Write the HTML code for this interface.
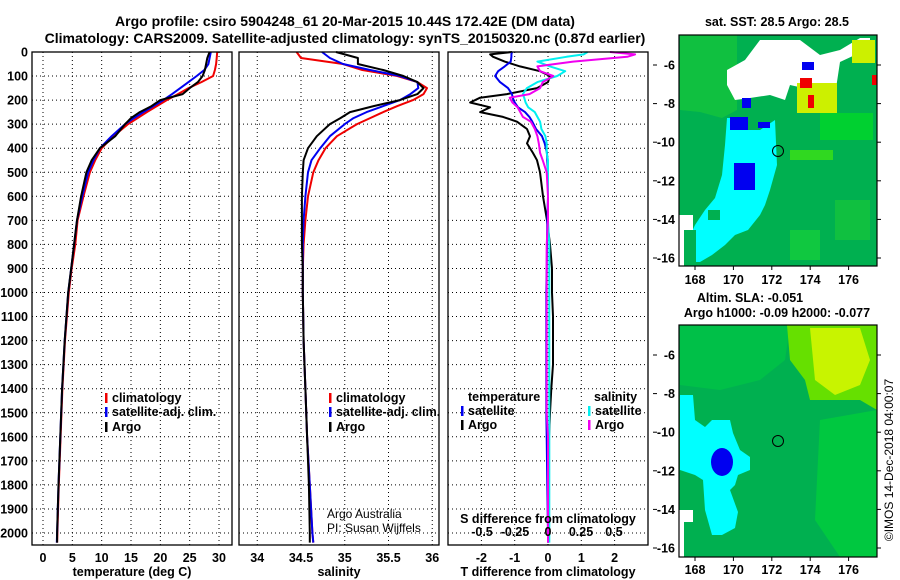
<!DOCTYPE html>
<html><head><meta charset="utf-8"><style>
body{margin:0;background:#fff;}
svg{display:block;font-family:"Liberation Sans",sans-serif;}
.b{font-weight:bold;font-size:12.5px;}
.t{font-weight:bold;font-size:14px;}
</style></head><body>
<svg id="s" width="900" height="580" viewBox="0 0 900 580" xmlns="http://www.w3.org/2000/svg">
<text class="t" x="345" y="26" text-anchor="middle">Argo profile: csiro 5904248_61 20-Mar-2015 10.44S 172.42E (DM data)</text>
<text class="t" x="345" y="43" text-anchor="middle">Climatology: CARS2009. Satellite-adjusted climatology: synTS_20150320.nc (0.87d earlier)</text>

<!-- top map -->
<g>
<rect x="679" y="35" width="198" height="231" fill="#00b050"/>
<polygon points="680,35 737,35 737,110 722,118 700,112 680,110" fill="#10c040"/>
<polygon points="727,70 745,60 760,40 800,40 820,55 840,50 860,38 870,38 870,48 840,62 835,95 790,85 785,100 770,95 750,98 735,100 727,85" fill="#fff"/>
<rect x="820" y="113" width="53" height="27" fill="#00d030"/>
<rect x="790" y="150" width="43" height="10" fill="#30d820"/>
<rect x="790" y="230" width="30" height="30" fill="#10c840"/>
<rect x="835" y="200" width="35" height="40" fill="#10c040"/>
<rect x="797" y="83" width="40" height="30" fill="#ccf000"/>
<rect x="852" y="40" width="23" height="23" fill="#ccf000"/>
<rect x="800" y="78" width="12" height="10" fill="#f00000"/>
<rect x="808" y="95" width="6" height="13" fill="#f00000"/>
<rect x="872" y="75" width="5" height="10" fill="#f00000"/>
<rect x="802" y="62" width="12" height="8" fill="#0000f0"/>
<polygon points="727,118 745,118 747,130 760,130 775,120 777,165 770,190 765,205 760,215 748,230 735,235 725,245 712,255 700,262 690,262 688,240 695,225 705,210 715,198 722,175 725,145" fill="#00ffff"/>
<rect x="730" y="117" width="18" height="13" fill="#0000f0"/>
<rect x="742" y="98" width="9" height="10" fill="#0000f0"/>
<rect x="734" y="163" width="21" height="27" fill="#0000f0"/>
<rect x="758" y="122" width="12" height="6" fill="#0000f0"/>
<rect x="708" y="210" width="12" height="10" fill="#00b050"/>
<rect x="679" y="215" width="14" height="51" fill="#fff"/>
<rect x="684" y="230" width="12" height="36" fill="#00b050"/>
<circle cx="778" cy="151" r="5.5" fill="none" stroke="#000" stroke-width="1"/>
<rect x="679" y="35" width="198" height="231" fill="none" stroke="#000" stroke-width="1.2"/>
</g>
<text class="b" x="777" y="26" text-anchor="middle">sat. SST: 28.5 Argo: 28.5</text>

<!-- bottom map -->
<g>
<rect x="679" y="325" width="198" height="232" fill="#00b050"/>
<polygon points="680,325 790,325 785,360 760,380 720,390 680,385" fill="#00c048"/>
<polygon points="787,325 877,325 877,410 860,400 830,400 810,400 805,380 790,360" fill="#66e000"/>
<polygon points="810,328 860,328 870,360 860,385 835,395 815,380" fill="#c8f400"/>
<polygon points="820,420 877,410 877,557 840,557 815,520" fill="#00c840"/>
<polygon points="680,395 693,395 695,420 705,427 712,420 730,420 733,433 740,450 750,457 750,470 738,475 735,485 730,490 738,512 735,528 722,535 712,535 705,510 703,480 695,475 680,470" fill="#00ffff"/>
<ellipse cx="722" cy="462" rx="11" ry="14" fill="#0000f0"/>
<rect x="679" y="510" width="14" height="47" fill="#fff"/>
<rect x="684" y="522" width="12" height="35" fill="#00b050"/>
<circle cx="778" cy="441" r="5.5" fill="none" stroke="#000" stroke-width="1"/>
<rect x="679" y="325" width="198" height="232" fill="none" stroke="#000" stroke-width="1.2"/>
</g>
<text class="b" x="750" y="302" text-anchor="middle">Altim. SLA: -0.051</text>
<text class="b" x="777" y="317" text-anchor="middle">Argo h1000: -0.09 h2000: -0.077</text>
<text x="893" y="460" font-size="12" text-anchor="middle" transform="rotate(-90 893 460)">©IMOS 14-Dec-2018 04:00:07</text>

<g id="plots"></g>
</svg>
<script>
const depths=[0,25,50,75,100,125,150,175,200,225,250,275,300,350,400,450,500,600,700,800,900,1000,1200,1400,1600,1800,2000,2040];
const tempClim=[29.7,29.6,29.5,29.3,29.0,27.0,24.8,23.0,21.1,19.4,17.7,16.1,14.5,12.0,10.0,8.9,8.0,6.9,5.9,5.5,4.9,4.4,3.75,3.3,3.0,2.7,2.45,2.4];
const tempSat=[28.6,28.4,28.2,27.5,26.2,24.8,23.4,22.0,20.5,18.8,17.1,15.5,14.0,11.7,9.7,8.6,7.7,6.7,5.8,5.3,4.8,4.3,3.7,3.25,2.95,2.65,2.4,2.35];
const tempArgo=[28.4,28.0,27.8,27.6,27.2,26.4,25.0,23.8,20.0,18.5,16.5,15.0,14.0,12.3,9.7,8.3,7.4,6.5,5.8,5.3,4.8,4.3,3.7,3.25,2.95,2.65,2.4,2.4];
const salClim=[34.45,34.5,34.98,35.2,35.6,35.83,35.94,35.9,35.78,35.6,35.44,35.29,35.14,34.91,34.78,34.7,34.64,34.58,34.55,34.53,34.52,34.52,34.53,34.55,34.57,34.6,34.63,34.64];
const salSat=[34.74,34.83,34.98,35.29,35.63,35.83,35.84,35.75,35.63,35.44,35.25,35.1,35.0,34.83,34.72,34.62,34.58,34.55,34.53,34.52,34.52,34.52,34.53,34.55,34.57,34.6,34.63,34.64];
const salArgo=[34.9,35.15,35.15,35.44,35.67,35.83,35.9,35.83,35.63,35.33,35.06,34.95,34.83,34.68,34.58,34.53,34.52,34.51,34.51,34.51,34.52,34.52,34.53,34.55,34.57,34.59,34.6,34.6];
const diffDepths=[0,10,20,40,60,80,100,125,150,175,190,210,230,250,270,290,320,350,380,420,450,500,600,700,800,900,1000,1100,1200,1300,1400,1500,1600,1800,2000,2040];
const dTArgo=[-1.08,-1.74,-1.65,-1.3,-0.84,-0.24,0.06,0,-0.33,-1.23,-2.04,-2.34,-1.74,-2.04,-1.35,-0.93,-0.63,-0.54,-0.63,-0.45,-0.33,-0.24,-0.15,-0.03,0.06,0.12,0.12,0.15,0.15,0.15,0.1,0.06,0.03,0.02,0,0];
const dTSat=[-1.08,-1.1,-1.1,-1.12,-1.3,-1.5,-1.59,-1.44,-1.2,-1.08,-1.06,-1.0,-0.9,-0.69,-0.56,-0.47,-0.36,-0.18,-0.1,-0.03,-0.02,0,0,-0.02,-0.03,-0.04,-0.05,-0.05,-0.05,-0.05,-0.05,-0.05,-0.04,-0.02,0,0];
const dSSat=[0.30,0.27,0.14,-0.08,0.015,0.13,0.07,-0.08,-0.16,-0.19,-0.18,-0.17,-0.15,-0.1,-0.08,-0.06,-0.05,-0.02,-0.01,-0.01,0,0,0,0,0.01,0.01,0.01,0.01,0.01,0.01,0.01,0.01,0.01,0.01,0.01,0.01];
const dSArgo=[0.47,0.66,0.6,0.19,-0.08,-0.06,0.04,-0.04,-0.06,-0.14,-0.29,-0.27,-0.23,-0.21,-0.19,-0.13,-0.1,-0.08,-0.07,-0.06,-0.04,-0.01,0,0,-0.01,-0.01,-0.01,-0.01,-0.01,-0.01,-0.01,-0.01,0,0,0,0];
const depthTicks=[0,100,200,300,400,500,600,700,800,900,1000,1100,1200,1300,1400,1500,1600,1700,1800,1900,2000];
const tempTicks=[0,5,10,15,20,25,30];
const salTicks=[34,34.5,35,35.5,36];
const dTTicks=[-2,-1,0,1,2];
const dSTicks=[-0.5,-0.25,0,0.25,0.5];

const NS='http://www.w3.org/2000/svg';
const G=document.getElementById('plots');
function mk(tag,attrs,parent){const e=document.createElementNS(NS,tag);for(const k in attrs)e.setAttribute(k,attrs[k]);(parent||G).appendChild(e);return e;}
const yD=d=>52+d*0.2405;
const xT=v=>43+v*5.867;
const xS=v=>301+(v-34.5)*87.5;
const xDT=v=>548+v*33.3;
const xDS=v=>548+v*132;
const TOP=52,BOT=545;

function panel(name){
  const g=mk('g',{});
  
  
  return g;
}
function vgrid(g,xs){xs.forEach(x=>{const l=mk('line',{x1:x,x2:x,y1:TOP,y2:BOT,stroke:'#000','stroke-width':1,'stroke-dasharray':'1,3'},g);});}
function hgrid(g,x0,x1){depthTicks.forEach(d=>{const l=mk('line',{x1:x0,x2:x1,y1:yD(d),y2:yD(d),stroke:'#000','stroke-width':1,'stroke-dasharray':'1,3'},g);});}
function box(g,x0,x1){const r=mk('rect',{x:x0,y:TOP,width:x1-x0,height:BOT-TOP,fill:'none',stroke:'#000','stroke-width':1.3},g);}
function line(g,ds,vs,fx,col,name,w){
  const p=ds.map((d,i)=>fx(vs[i]).toFixed(1)+','+yD(d).toFixed(1)).join(' ');
  const e=mk('polyline',{points:p,fill:'none',stroke:col,'stroke-width':w||2,'stroke-linejoin':'round'},g);
  
  
}
function txt(g,x,y,s,cls,anchor,name,extra){
  const e=mk('text',Object.assign({x:x,y:y,'text-anchor':anchor||'middle'},extra||{}),g);
  if(cls)e.setAttribute('class',cls);
  e.textContent=s;
  
  
  return e;
}
function legend(g,x,y,col,label,name){
  const r=mk('rect',{x:x,y:y-9,width:2.5,height:10,fill:col},g);
  
  
  txt(g,x+7,y,label,'b','start',name);
}

// Panel 1
const g1=panel('temperature-panel');
vgrid(g1,tempTicks.map(xT));hgrid(g1,32,232);
line(g1,depths,tempClim,xT,'#f00000','temp-climatology-line');
line(g1,depths,tempSat,xT,'#0000f0','temp-satellite-line');
line(g1,depths,tempArgo,xT,'#000','temp-argo-line');
box(g1,32,232);
depthTicks.forEach(d=>txt(g1,28,yD(d)+4.5,String(d),'b','end','depth-tick-label'));
tempTicks.forEach(v=>txt(g1,xT(v),562,String(v),'b','middle','temp-tick-label'));
txt(g1,132,576,'temperature (deg C)','b','middle','x-axis-title-temperature');
legend(g1,105,402,'#f00000','climatology','legend-climatology');
legend(g1,105,416,'#0000f0','satellite-adj. clim.','legend-satellite-adj');
legend(g1,105,431,'#000','Argo','legend-argo');

// Panel 2
const g2=panel('salinity-panel');
vgrid(g2,salTicks.map(xS));hgrid(g2,239,439);
line(g2,depths,salClim,xS,'#f00000','sal-climatology-line');
line(g2,depths,salSat,xS,'#0000f0','sal-satellite-line');
line(g2,depths,salArgo,xS,'#000','sal-argo-line');
box(g2,239,439);
salTicks.forEach(v=>txt(g2,xS(v),562,String(v),'b','middle','sal-tick-label'));
txt(g2,339,576,'salinity','b','middle','x-axis-title-salinity');
legend(g2,329,402,'#f00000','climatology','legend-sal-climatology');
legend(g2,329,416,'#0000f0','satellite-adj. clim.','legend-sal-satellite-adj');
legend(g2,329,431,'#000','Argo','legend-sal-argo');
txt(g2,327,518,'Argo Australia',null,'start','credit-argo-australia',{'font-size':'12'});
txt(g2,327,532,'PI: Susan Wijffels',null,'start','credit-pi',{'font-size':'12'});

// Panel 3
const g3=panel('difference-panel');
vgrid(g3,dTTicks.map(xDT));hgrid(g3,448,648);
line(g3,diffDepths,dTArgo,xDT,'#000','dt-argo-line');
line(g3,diffDepths,dTSat,xDT,'#0000f0','dt-satellite-line');
line(g3,diffDepths,dSSat,xDS,'#00f0f0','ds-satellite-line');
line(g3,diffDepths,dSArgo,xDS,'#f000f0','ds-argo-line');
box(g3,448,648);
dTTicks.forEach(v=>txt(g3,xDT(v),562,String(v),'b','middle','dt-tick-label'));
dSTicks.forEach(v=>txt(g3,xDS(v),536,String(v),'b','middle','ds-tick-label'));
txt(g3,548,523,'S difference from climatology','b','middle','s-difference-title');
txt(g3,548,576,'T difference from climatology','b','middle','x-axis-title-t-difference');
txt(g3,468,401,'temperature','b','start','legend-temperature-header');
legend(g3,461,415,'#0000f0','satellite','legend-t-satellite');
legend(g3,461,429,'#000','Argo','legend-t-argo');
txt(g3,594,401,'salinity','b','start','legend-salinity-header');
legend(g3,588,415,'#00f0f0','satellite','legend-s-satellite');
legend(g3,588,429,'#f000f0','Argo','legend-s-argo');

// Map axes
const lonTicks=[168,170,172,174,176];
const latTicks=[-6,-8,-10,-12,-14,-16];
const gm=panel('map-axes');
[[65,266,280],[355,557,570]].forEach(([y6,yb,ly])=>{
  const yL=v=>y6+(-6-v)*19.3;
  latTicks.forEach(v=>{
    const y=yL(v);
    txt(gm,675,y+4.5,String(v),'b','end','lat-tick-label');
    const a=mk('line',{x1:653,x2:657,y1:y,y2:y,stroke:'#000'},gm);
    
    
    const b=mk('line',{x1:877,x2:881,y1:y,y2:y,stroke:'#000'},gm);
    
    
  });
  lonTicks.forEach(v=>{
    const x=695+(v-168)*19.2;
    txt(gm,x,ly+4,String(v),'b','middle','lon-tick-label');
    const t=mk('line',{x1:x,x2:x,y1:yb,y2:yb+4,stroke:'#000'},gm);
    
    
  });
});
</script>
</body></html>
